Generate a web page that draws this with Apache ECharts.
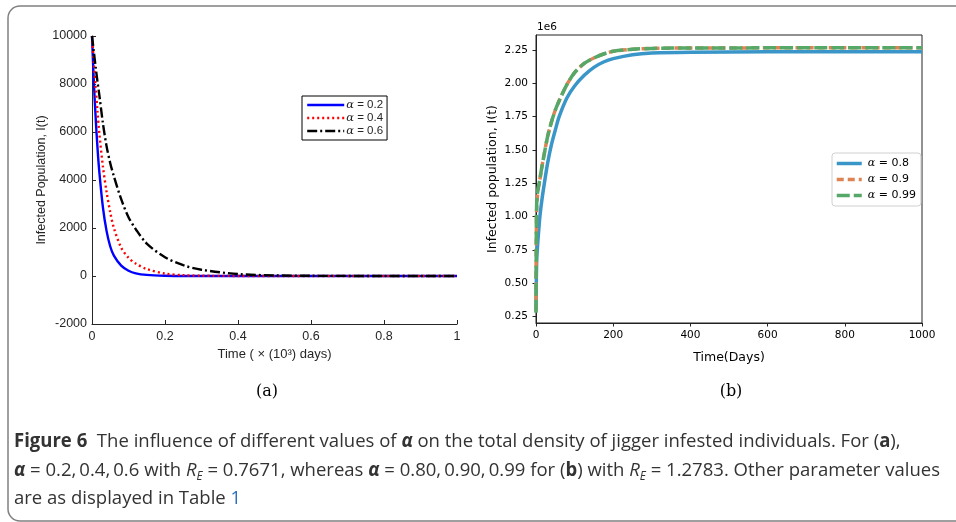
<!DOCTYPE html>
<html>
<head>
<meta charset="utf-8">
<script src="https://cdn.jsdelivr.net/npm/echarts@6/dist/echarts.min.js"></script>
<style>
  html, body { margin: 0; padding: 0; background: #fff; }
  #main { width: 956px; height: 522px; }
</style>
</head>
<body>
<div id="main"></div>
<script>
// panel (a): time in 10^3 days, infected population
var timeA = [0, 0.005, 0.01, 0.015, 0.02, 0.03, 0.04, 0.05, 0.06, 0.08, 0.1, 0.12, 0.15, 0.2, 0.25, 0.3, 0.4, 0.5, 0.6, 0.8, 1.0];
var alpha02 = [10000, 8100, 6600, 5350, 4350, 2850, 1870, 1230, 850, 430, 220, 110, 45, 10, 2, 0, 0, 0, 0, 0, 0];
var alpha04 = [10000, 8900, 7850, 6850, 5950, 4550, 3500, 2650, 2000, 1180, 760, 520, 290, 100, 35, 12, 2, 0, 0, 0, 0];
var alpha06 = [10000, 9350, 8700, 8100, 7550, 6350, 5400, 4700, 4150, 3200, 2450, 1950, 1350, 780, 450, 260, 80, 25, 8, 1, 0];

// panel (b): time in days, infected population in millions (axis offset 1e6)
var timeB = [0, 1, 2, 4, 6, 10, 15, 20, 30, 40, 50, 60, 80, 100, 125, 150, 175, 200, 250, 300, 400, 600, 800, 1000];
var alpha08 = [0.30, 0.55, 0.68, 0.78, 0.86, 1.00, 1.12, 1.22, 1.40, 1.54, 1.65, 1.75, 1.89, 1.98, 2.06, 2.12, 2.16, 2.185, 2.215, 2.228, 2.234, 2.236, 2.236, 2.236];
var alpha09 = [0.29, 0.90, 1.08, 1.16, 1.21, 1.28, 1.37, 1.45, 1.60, 1.71, 1.80, 1.87, 1.99, 2.08, 2.15, 2.19, 2.22, 2.24, 2.255, 2.262, 2.265, 2.266, 2.266, 2.266];
var alpha099 = [0.28, 0.95, 1.12, 1.18, 1.22, 1.28, 1.37, 1.45, 1.60, 1.71, 1.80, 1.87, 1.99, 2.08, 2.15, 2.19, 2.22, 2.24, 2.255, 2.262, 2.265, 2.266, 2.266, 2.266];
var ticksB = [0.25, 0.5, 0.75, 1.0, 1.25, 1.5, 1.75, 2.0, 2.25];

var myChart = echarts.init(document.getElementById('main'));

function pairs(xs, ys) {
    return xs.map(function (x, i) { return [x, ys[i]]; });
}

var mlFont = 'Liberation Sans, Arial, sans-serif';
var mplFont = 'DejaVu Sans, sans-serif';
var capFont = 'Open Sans, Noto Sans, sans-serif';
var capSize = 19;
var capScale = 0.975;

myChart.setOption({
    animation: false,
    grid: [
        { left: 92, top: 36, width: 365, height: 288 },
        { left: 536, top: 35, width: 386, height: 288, show: true, borderColor: '#222', borderWidth: 1 }
    ],
    legend: [
        {
            data: ['α = 0.2', 'α = 0.4', 'α = 0.6'],
            orient: 'vertical', left: 302, top: 96,
            padding: [3, 4, 3, 4], itemGap: 1, itemWidth: 37, itemHeight: 11,
            backgroundColor: '#fff', borderColor: '#000', borderWidth: 1,
            itemStyle: { opacity: 0 },
            lineStyle: { width: 'inherit' },
            formatter: function (n) { return '{a|α} = ' + n.split('= ')[1]; },
            textStyle: { fontSize: 11.5, color: '#262626', fontFamily: mlFont, padding: [0, 0, 0, -3],
                rich: { a: { fontFamily: 'DejaVu Serif, serif', fontStyle: 'italic', fontSize: 11.5, color: '#262626' } } }
        },
        {
            data: ['α = 0.8', 'α = 0.9', 'α = 0.99'],
            orient: 'vertical', left: 832, top: 153,
            padding: [5, 5, 5, 3], itemGap: 5, itemWidth: 25, itemHeight: 10,
            backgroundColor: '#fff', borderColor: '#d0d0d0', borderWidth: 1, borderRadius: 3,
            itemStyle: { opacity: 0 },
            lineStyle: { width: 'inherit' },
            formatter: function (n) { return '{a|α} = ' + n.split('= ')[1]; },
            textStyle: { fontSize: 11, color: '#000', fontFamily: mplFont, padding: [0, 0, 0, 1],
                rich: { a: { fontFamily: 'DejaVu Serif, serif', fontStyle: 'italic', fontSize: 11, color: '#000' } } }
        }
    ],
    xAxis: [
        {
            gridIndex: 0, type: 'value', min: 0, max: 1, interval: 0.2,
            axisLine: { show: true, onZero: false, lineStyle: { color: '#262626', width: 1 } },
            axisTick: { show: true, inside: true, length: 4, lineStyle: { color: '#262626' } },
            axisLabel: { color: '#262626', fontSize: 12.5, fontFamily: mlFont, margin: 6 },
            splitLine: { show: false },
            name: 'Time ( × (10³) days)', nameLocation: 'middle', nameGap: 23,
            nameTextStyle: { color: '#262626', fontSize: 13, fontFamily: mlFont }
        },
        {
            gridIndex: 1, type: 'value', min: 0, max: 1000, interval: 200,
            axisLine: { show: true, onZero: false, lineStyle: { color: '#222', width: 1 } },
            axisTick: { show: true, inside: false, length: 3.5, lineStyle: { color: '#222' } },
            axisLabel: { color: '#000', fontSize: 10.5, fontFamily: mplFont, margin: 7,
                formatter: function (v) { return String(v); } },
            splitLine: { show: false },
            name: 'Time(Days)', nameLocation: 'middle', nameGap: 28,
            nameTextStyle: { color: '#000', fontSize: 12.5, fontFamily: mplFont }
        }
    ],
    yAxis: [
        {
            gridIndex: 0, type: 'value', min: -2000, max: 10000, interval: 2000,
            axisLine: { show: true, onZero: false, lineStyle: { color: '#262626', width: 1 } },
            axisTick: { show: true, inside: true, length: 4, lineStyle: { color: '#262626' } },
            axisLabel: { color: '#262626', fontSize: 12.5, fontFamily: mlFont, margin: 5,
                formatter: function (v) { return String(v); } },
            splitLine: { show: false },
            name: 'Infected Population, I(t)', nameLocation: 'middle', nameGap: 43,
            nameTextStyle: { color: '#262626', fontSize: 12.5, fontFamily: mlFont }
        },
        {
            gridIndex: 1, type: 'value', min: 0.203, max: 2.3625,
            axisLine: { show: true, onZero: false, lineStyle: { color: '#222', width: 1 } },
            axisTick: { show: true, inside: false, length: 3.5, customValues: ticksB, lineStyle: { color: '#222' } },
            axisLabel: { color: '#000', fontSize: 10.5, fontFamily: mplFont, margin: 8, customValues: ticksB,
                formatter: function (v) { return v.toFixed(2); } },
            splitLine: { show: false },
            name: 'Infected population, I(t)', nameLocation: 'middle', nameGap: 37,
            nameTextStyle: { color: '#000', fontSize: 12.5, fontFamily: mplFont }
        }
    ],
    series: [
        { name: 'α = 0.2', type: 'line', xAxisIndex: 0, yAxisIndex: 0, data: pairs(timeA, alpha02),
          symbol: 'none', smooth: 0.3, color: '#0000ff', lineStyle: { color: '#0000ff', width: 2.4 } },
        { name: 'α = 0.4', type: 'line', xAxisIndex: 0, yAxisIndex: 0, data: pairs(timeA, alpha04),
          symbol: 'none', smooth: 0.3, color: '#ff0000', lineStyle: { color: '#ff0000', width: 2.4, type: [2, 3] } },
        { name: 'α = 0.6', type: 'line', xAxisIndex: 0, yAxisIndex: 0, data: pairs(timeA, alpha06),
          symbol: 'none', smooth: 0.3, color: '#000', lineStyle: { color: '#000', width: 2.4, type: [10, 3, 2, 3] } },
        { name: 'α = 0.8', type: 'line', xAxisIndex: 1, yAxisIndex: 1, data: pairs(timeB, alpha08),
          symbol: 'none', smooth: 0.3, color: '#3a96c8', lineStyle: { color: '#3a96c8', width: 3.5 } },
        { name: 'α = 0.9', type: 'line', xAxisIndex: 1, yAxisIndex: 1, data: pairs(timeB, alpha09),
          symbol: 'none', smooth: 0.3, color: '#dd8452', lineStyle: { color: '#dd8452', width: 3.5, type: [7, 4] } },
        { name: 'α = 0.99', type: 'line', xAxisIndex: 1, yAxisIndex: 1, data: pairs(timeB, alpha099),
          symbol: 'none', smooth: 0.3, color: '#55a868', lineStyle: { color: '#55a868', width: 3.5, type: [13, 4] } }
    ],
    graphic: [
        { type: 'rect', silent: true, z: -10, shape: { x: 8, y: 6, width: 975, height: 515, r: 12 },
          style: { fill: 'none', stroke: '#808080', lineWidth: 1.5 } },
        { type: 'text', x: 537, y: 27, style: { text: '1e6', font: '10.5px ' + mplFont, fill: '#000', verticalAlign: 'middle' } },
        { type: 'text', x: 267, y: 392, style: { text: '(a)', font: '16px DejaVu Serif, serif', fill: '#000', align: 'center', verticalAlign: 'middle' } },
        { type: 'text', x: 731, y: 392, style: { text: '(b)', font: '16px DejaVu Serif, serif', fill: '#000', align: 'center', verticalAlign: 'middle' } },
        { type: 'text', x: 14, y: 442, scaleX: capScale, style: {
            text: '{b|Figure 6}  The influence of different values of {al|α} on the total density of jigger infested individuals. For ({b|a}),',
            font: capSize + 'px ' + capFont, fill: '#333', verticalAlign: 'middle',
            rich: { b: { fontWeight: 'bold', fontSize: capSize, fontFamily: capFont, fill: '#333' },
                    al: { fontWeight: 'bold', fontStyle: 'italic', fontSize: capSize, fontFamily: capFont, fill: '#333' } } } },
        { type: 'text', x: 14, y: 471, scaleX: capScale, style: {
            text: '{al|α} = 0.2,\u20090.4,\u20090.6 with {it|R}{sub|E} = 0.7671, whereas {al|α} = 0.80,\u20090.90,\u20090.99 for ({b|b}) with {it|R}{sub|E} = 1.2783. Other parameter values',
            font: capSize + 'px ' + capFont, fill: '#333', verticalAlign: 'middle',
            rich: { b: { fontWeight: 'bold', fontSize: capSize, fontFamily: capFont, fill: '#333', lineHeight: 24 },
                    al: { fontWeight: 'bold', fontStyle: 'italic', fontSize: capSize, fontFamily: capFont, fill: '#333', lineHeight: 24 },
                    it: { fontStyle: 'italic', fontSize: capSize, fontFamily: capFont, fill: '#333', lineHeight: 24 },
                    sub: { fontStyle: 'italic', fontSize: 12, fontFamily: capFont, fill: '#333', lineHeight: 13, verticalAlign: 'bottom' } } } },
        { type: 'text', x: 14, y: 499, scaleX: capScale, style: {
            text: 'are as displayed in Table {lk|1}',
            font: capSize + 'px ' + capFont, fill: '#333', verticalAlign: 'middle',
            rich: { lk: { fontSize: capSize, fontFamily: capFont, fill: '#2a6fc0' } } } }
    ]
});

window.addEventListener('resize', function () {
    myChart.resize();
});
</script>
</body>
</html>
